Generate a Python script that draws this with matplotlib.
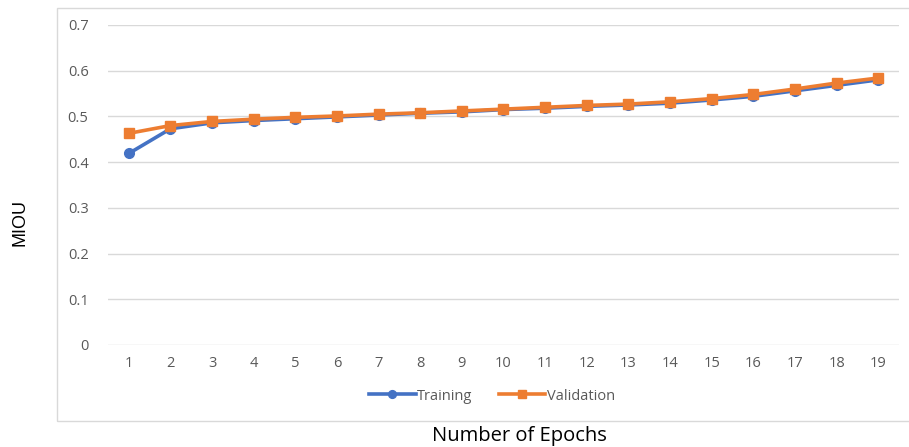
import matplotlib.pyplot as plt
from matplotlib.patches import Rectangle

epochs = list(range(1, 20))
training = [0.419, 0.473, 0.486, 0.491, 0.495, 0.499, 0.503, 0.507, 0.510, 0.515,
            0.518, 0.522, 0.525, 0.529, 0.536, 0.544, 0.556, 0.568, 0.580]
validation = [0.463, 0.480, 0.489, 0.494, 0.498, 0.501, 0.505, 0.508, 0.512, 0.516,
              0.520, 0.524, 0.527, 0.532, 0.539, 0.548, 0.560, 0.573, 0.584]
yticks = [0, 0.1, 0.2, 0.3, 0.4, 0.5, 0.6, 0.7]

W, H = 909, 447
fig = plt.figure(figsize=(W / 100, H / 100), dpi=100)
fig.patches.append(Rectangle((57 / W, 1 - 421 / H), 860 / W, 413 / H,
                             transform=fig.transFigure, fill=False,
                             edgecolor='#d9d9d9', linewidth=1))

ax = fig.add_axes([108 / W, 1 - 345 / H, 791 / W, 320 / H])
ax.plot(epochs, training, color='#4472c4', lw=2.6, marker='o', ms=7,
        label='Training', zorder=3)
ax.plot(epochs, validation, color='#ed7d31', lw=2.6, marker='s', ms=7,
        label='Validation', zorder=4)

ax.set_xlim(0.5, 19.5)
ax.set_ylim(0, 0.7)
ax.set_xticks(epochs)
ax.set_yticks(yticks)
ax.set_yticklabels(['0' if v == 0 else '{:g}'.format(v) for v in yticks])
ax.tick_params(length=0, labelsize=10.5, labelcolor='#595959')
ax.tick_params(axis='x', pad=8)
ax.tick_params(axis='y', pad=14)
for lab in ax.get_xticklabels() + ax.get_yticklabels():
    lab.set_family('Open Sans')
ax.grid(axis='y', color='#d9d9d9', lw=1)
ax.set_axisbelow(True)
for s in ax.spines.values():
    s.set_visible(False)

leg = ax.legend(loc='center', bbox_to_anchor=(492 / W, 1 - 396 / H),
                bbox_transform=fig.transFigure, ncol=2, frameon=False,
                handlelength=3.2, handletextpad=0.1, columnspacing=1.8,
                markerscale=0.8, prop={'family': 'Open Sans', 'size': 10.5})
for t in leg.get_texts():
    t.set_color('#595959')

fig.text(20 / W, 1 - 223 / H, 'MIOU', rotation=90, ha='center', va='center',
         fontsize=13, family='Liberation Sans', color='black')
fig.text(519 / W, 1 - 436 / H, 'Number of Epochs', ha='center', va='center',
         fontsize=14.5, family='Open Sans', color='black')

fig.savefig('out.png', dpi=100)
